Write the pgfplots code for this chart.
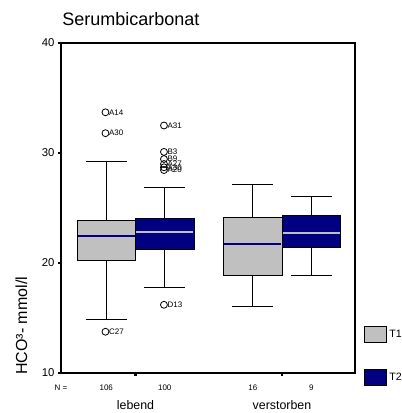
\documentclass[border=0pt]{standalone}
\usepackage{fontspec}
\setmainfont{Liberation Sans}
\usepackage{pgfplots}
\pgfplotsset{compat=1.18}
\definecolor{tgray}{RGB}{192,192,192}
\definecolor{tnavy}{RGB}{0,0,128}
\begin{document}
\begin{tikzpicture}
\begin{axis}[
  at={(0,0)}, anchor=south west,
  scale only axis, width=220.5pt, height=247.5pt,
  xmin=0, xmax=5.026, ymin=10, ymax=40,
  ytick={10,20,30,40},
  xtick={1.274,3.778}, xticklabels={lebend,verstorben},
  extra x ticks={0,0.774,1.774,3.278,4.278},
  extra x tick labels={N =,106,100,16,9},
  extra x tick style={tick style={draw=none}, xticklabel style={font=\fontsize{6}{7}\selectfont, yshift=11.25pt}},
  xticklabel style={font=\fontsize{9.3}{11}\selectfont, anchor=north, inner sep=0pt, yshift=-18pt},
  yticklabel style={font=\fontsize{8.5}{10}\selectfont, inner sep=0pt, xshift=-2.5pt},
  /pgf/number format/assume math mode=true,
  tick align=outside, tick pos=left,
  major tick length=2.25pt,
  tick style={line width=1.8pt, black},
  axis line style={line width=0.8pt, black},
  axis on top,
  title={Serumbicarbonat},
  title style={at={(0.0034,1.0545)}, anchor=base west, inner sep=0pt, yshift=-6pt, font=\fontsize{13.5}{16}\selectfont},
  ylabel={HCO³- mmol/l},
  ylabel style={at={(-0.1156,-0.006)}, anchor=base west, inner sep=0pt, font=\fontsize{12}{14}\selectfont},
  legend image code/.code={\draw[#1] (0pt,-6pt) rectangle (16.5pt,6pt);},
  legend style={at={(1.0306,0.1424)}, anchor=north west, draw=none, fill=none, inner sep=0pt,
    row sep=19.5pt, column sep=1.5pt, font=\fontsize{8}{9}\selectfont,
    nodes={inner sep=0pt, anchor=west}},
  legend cell align=left,
  whisk/.style={black, line width=0.75pt, mark=none},
  boxT1/.style={fill=tgray, draw=black, line width=0.75pt, mark=none},
  boxT2/.style={fill=tnavy, draw=black, line width=0.75pt, mark=none},
  medT1/.style={tnavy, line width=1.6pt, mark=none},
  medT2/.style={tgray, line width=1.6pt, mark=none},
]
\addlegendimage{fill=tgray, draw=black, line width=0.75pt}
\addlegendentry{T1}
\addlegendimage{fill=tnavy, draw=black, line width=0.75pt}
\addlegendentry{T2}
% ---- whiskers (stems and caps)
% lebend T1: lw 14.9, lq 20.2, med 22.45, uq 23.85, uw 29.25
\addplot[whisk] coordinates {(0.774,23.85) (0.774,29.25)};
\addplot[whisk] coordinates {(0.424,29.25) (1.124,29.25)};
\addplot[whisk] coordinates {(0.774,20.2) (0.774,14.9)};
\addplot[whisk] coordinates {(0.424,14.9) (1.124,14.9)};
% lebend T2: lw 17.8, lq 21.2, med 22.85, uq 24.05, uw 26.85
\addplot[whisk] coordinates {(1.774,24.05) (1.774,26.85)};
\addplot[whisk] coordinates {(1.424,26.85) (2.124,26.85)};
\addplot[whisk] coordinates {(1.774,21.2) (1.774,17.8)};
\addplot[whisk] coordinates {(1.424,17.8) (2.124,17.8)};
% verstorben T1: lw 16.0, lq 18.85, med 21.7, uq 24.15, uw 27.1
\addplot[whisk] coordinates {(3.278,24.15) (3.278,27.1)};
\addplot[whisk] coordinates {(2.928,27.1) (3.628,27.1)};
\addplot[whisk] coordinates {(3.278,18.85) (3.278,16.0)};
\addplot[whisk] coordinates {(2.928,16.0) (3.628,16.0)};
% verstorben T2: lw 18.85, lq 21.4, med 22.75, uq 24.3, uw 26.05
\addplot[whisk] coordinates {(4.278,24.3) (4.278,26.05)};
\addplot[whisk] coordinates {(3.928,26.05) (4.628,26.05)};
\addplot[whisk] coordinates {(4.278,21.4) (4.278,18.85)};
\addplot[whisk] coordinates {(3.928,18.85) (4.628,18.85)};
% ---- boxes (lower quartile to upper quartile)
\addplot[boxT1] coordinates {(0.274,20.2) (1.274,20.2) (1.274,23.85) (0.274,23.85)} -- cycle;
\addplot[boxT2] coordinates {(1.274,21.2) (2.274,21.2) (2.274,24.05) (1.274,24.05)} -- cycle;
\addplot[boxT1] coordinates {(2.778,18.85) (3.778,18.85) (3.778,24.15) (2.778,24.15)} -- cycle;
\addplot[boxT2] coordinates {(3.778,21.4) (4.778,21.4) (4.778,24.3) (3.778,24.3)} -- cycle;
% ---- medians
\addplot[medT1] coordinates {(0.284,22.45) (1.264,22.45)};
\addplot[medT2] coordinates {(1.284,22.85) (2.264,22.85)};
\addplot[medT1] coordinates {(2.788,21.7) (3.768,21.7)};
\addplot[medT2] coordinates {(3.788,22.75) (4.768,22.75)};
% ---- outliers
\addplot[only marks, mark=o, mark size=2.6pt,
  mark options={line width=0.6pt, black, fill=white},
  nodes near coords, point meta=explicit symbolic,
  every node near coord/.style={anchor=west, inner sep=0pt, xshift=2.4pt,
    font=\fontsize{6}{6}\selectfont}]
  table[meta=label, row sep=\\] {
  x y label \\
  0.76 33.7 A14 \\
  0.76 31.8 A30 \\
  0.76 13.75 C27 \\
  1.76 32.5 A31 \\
  1.76 30.1 B3 \\
  1.76 29.45 B9 \\
  1.76 29.0 A27 \\
  1.76 28.7 A30 \\
  1.76 28.45 A20 \\
  1.76 16.2 D13 \\
  };
\end{axis}
\pgfresetboundingbox
\useasboundingbox (-45.75pt,-30pt) rectangle (255pt,279.75pt);
\end{tikzpicture}
\end{document}
